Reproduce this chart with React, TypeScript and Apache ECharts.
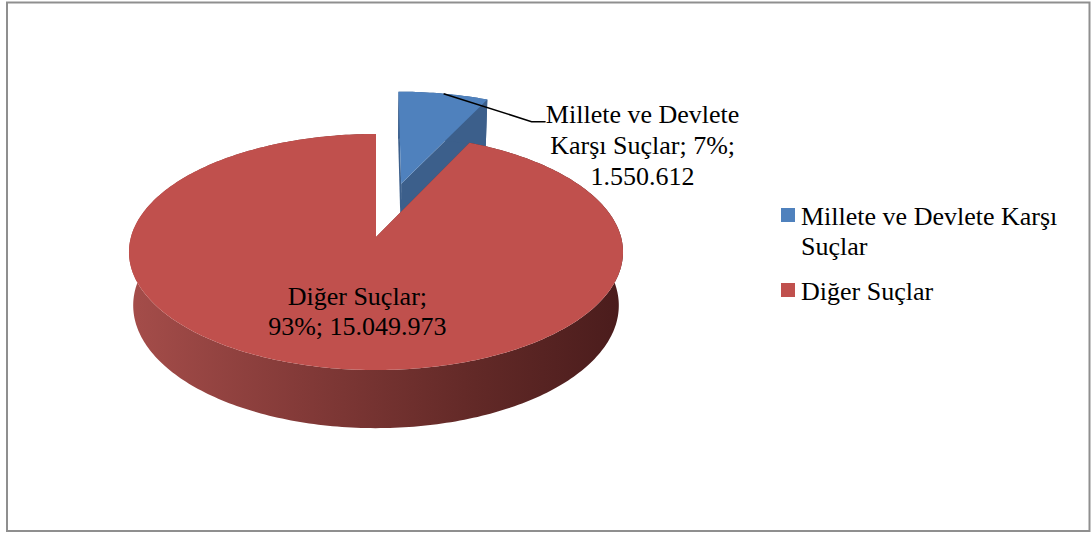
import React, { useEffect, useRef } from "react";
import * as echarts from "echarts";

// ---- data ----
const categories = ["Millete ve Devlete Karşı Suçlar", "Diğer Suçlar"];
const counts = [1550612, 15049973];
const sharePercents = [7, 93];

// ---- style ----
const topColors = ["#4f81bd", "#c0504d"];
const faceColors = ["#3c5f8b", "#7a3432"];
const explode = [0.5, 0];
const FAMILY = "Liberation Serif";
const FSIZE = 26;

// perspective camera fitted to the reference
const P = { cx: 376, cy: 237, f: 1698, D: 6.93, sa: 0.474, ca: 0.881, h: 0.25 };
function proj(X: number, Z: number, Y: number): number[] {
  const d = P.D + Z * P.ca - Y * P.sa;
  const yc = Z * P.sa + Y * P.ca;
  return [P.cx + (P.f * X) / d, P.cy - (P.f * yc) / d];
}

function fmt(n: number): string {
  return String(n).replace(/\B(?=(\d{3})+(?!\d))/g, ".");
}

let measureCtx: CanvasRenderingContext2D | null = null;
function wrap(text: string, maxWidth: number): string {
  if (!measureCtx) measureCtx = document.createElement("canvas").getContext("2d");
  const ctx = measureCtx!;
  ctx.font = `${FSIZE}px '${FAMILY}'`;
  const words = text.split(" ");
  const lines: string[] = [];
  let cur = "";
  words.forEach((w) => {
    const t = cur ? cur + " " + w : w;
    if (cur && ctx.measureText(t).width > maxWidth) {
      lines.push(cur);
      cur = w;
    } else cur = t;
  });
  if (cur) lines.push(cur);
  return lines.join("\n");
}

const total = sharePercents.reduce((a, b) => a + b, 0);
const cumulative: number[] = [];
sharePercents.reduce((acc, v, i) => {
  cumulative[i] = acc;
  return acc + v;
}, 0);

function sliceGeom(i: number, v: number) {
  const start = (cumulative[i] / total) * Math.PI * 2;
  const end = start + (v / total) * Math.PI * 2;
  const mid = (start + end) / 2;
  const ox = explode[i] * Math.sin(mid);
  const oz = explode[i] * Math.cos(mid);
  return { start, end, mid, ox, oz };
}

function renderItem(params: any, api: any) {
  const i = params.dataIndex;
  const { start, end, ox, oz } = sliceGeom(i, api.value(0));
  const N = Math.max(8, Math.ceil(((end - start) * 180) / Math.PI));
  const arc = (Y: number) => {
    const pts: number[][] = [];
    for (let k = 0; k <= N; k++) {
      const a = start + ((end - start) * k) / N;
      pts.push(proj(ox + Math.sin(a), oz + Math.cos(a), Y));
    }
    return pts;
  };
  const c0 = proj(ox, oz, 0);
  const c1 = proj(ox, oz, -P.h);
  const face = (a: number) => [
    c0,
    proj(ox + Math.sin(a), oz + Math.cos(a), 0),
    proj(ox + Math.sin(a), oz + Math.cos(a), -P.h),
    c1,
  ];
  const topArc = arc(0);
  const botArc = arc(-P.h).reverse();
  const wallFill =
    i === 1
      ? new echarts.graphic.LinearGradient(0, 0, 1, 0, [
          { offset: 0, color: "#a54d4a" },
          { offset: 0.35, color: "#833a38" },
          { offset: 0.7, color: "#622927" },
          { offset: 1, color: "#4a1c1c" },
        ])
      : faceColors[i];
  return {
    type: "group",
    children: [
      { type: "polygon", shape: { points: face(start) }, style: { fill: faceColors[i] } },
      { type: "polygon", shape: { points: face(end) }, style: { fill: faceColors[i] } },
      { type: "polygon", shape: { points: [...topArc, ...botArc] }, style: { fill: wallFill } },
      { type: "polygon", shape: { points: [c0, ...topArc] }, style: { fill: topColors[i] } },
    ],
  };
}

function labelGraphics(): any[] {
  const out: any[] = [];
  sharePercents.forEach((share, i) => {
    const { mid, ox, oz } = sliceGeom(i, share);
    const labelText = `${categories[i]}; ${share}%; ${fmt(counts[i])}`;
    if (share < 15) {
      const anchor = proj(ox + Math.sin(mid), oz + Math.cos(mid), 0);
      const elbow = [anchor[0] + 88, anchor[1] + 28];
      const tail = [elbow[0] + 14, elbow[1]];
      out.push({
        type: "polyline",
        shape: { points: [anchor, elbow, tail] },
        style: { stroke: "#000", lineWidth: 1.5, fill: "none" },
        z: 10,
      });
      out.push({
        type: "text",
        x: tail[0] + 97,
        y: elbow[1] - 23,
        z: 10,
        style: {
          text: wrap(labelText, 205),
          align: "center",
          verticalAlign: "top",
          fontFamily: FAMILY,
          fontSize: FSIZE,
          lineHeight: 31,
          fill: "#000",
        },
      });
    } else {
      const lp = proj(0.6 * Math.sin(mid), 0.6 * Math.cos(mid), 0);
      out.push({
        type: "text",
        x: lp[0] + 16,
        y: lp[1] + 1,
        z: 10,
        style: {
          text: wrap(labelText, 190),
          align: "center",
          verticalAlign: "middle",
          fontFamily: FAMILY,
          fontSize: FSIZE,
          lineHeight: 30,
          fill: "#000",
        },
      });
    }
  });
  return out;
}

export default function App() {
  const ref = useRef<HTMLDivElement>(null);
  useEffect(() => {
    if (!ref.current) return;
    const chart = echarts.init(ref.current, null, { renderer: "svg" });
    const legendItems: any[] = [];
    const legendY = [208, 283];
    categories.forEach((name, i) => {
      legendItems.push({
        type: "rect",
        shape: { x: 781, y: legendY[i], width: 14, height: 14 },
        style: { fill: topColors[i] },
      });
      legendItems.push({
        type: "text",
        x: 801,
        y: legendY[i] + 7 - 15 + 1.5,
        style: {
          text: wrap(name, 275),
          align: "left",
          verticalAlign: "top",
          fontFamily: FAMILY,
          fontSize: FSIZE,
          lineHeight: 30,
          fill: "#000",
        },
      });
    });
    chart.setOption({
      animation: false,
      backgroundColor: "#ffffff",
      graphic: [
        {
          type: "rect",
          shape: { x: 7, y: 2.5, width: 1082.5, height: 528.5 },
          style: { fill: "none", stroke: "#8f8f8f", lineWidth: 2 },
          z: 0,
        },
        ...legendItems,
        ...labelGraphics(),
      ],
      series: [
        {
          type: "custom",
          coordinateSystem: "none",
          silent: true,
          renderItem,
          data: sharePercents.map((s, i) => ({ name: categories[i], value: [s] })),
        },
      ],
    });
    return () => chart.dispose();
  }, []);
  return (
    <div
      ref={ref}
      style={{ position: "fixed", left: 0, top: 0, width: 1091, height: 533, background: "#fff" }}
    />
  );
}
